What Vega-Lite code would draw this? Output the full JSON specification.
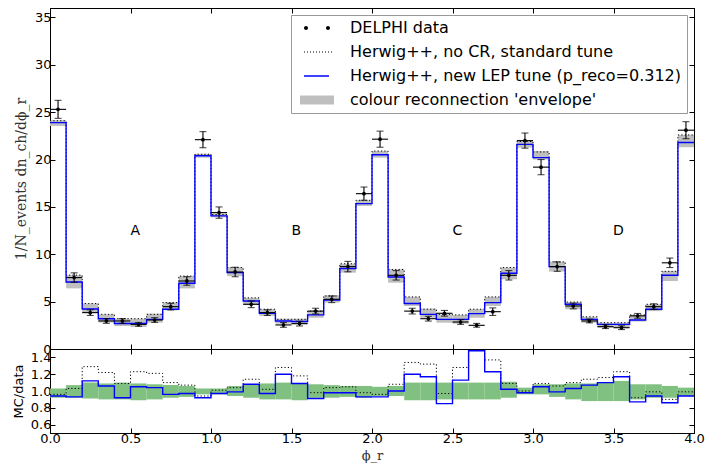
{
"$schema":"https://vega.github.io/schema/vega-lite/v6.json",
"padding":{"left":11,"top":7,"right":10,"bottom":2},
"spacing":0,
"bounds":"flush",
"datasets":{
"bins":[
{"lo":0.0,"hi":0.1,"x":0.05,"d":25.3,"dlo":24.35,"dhi":26.25,"nocr":24.1,"tune":23.9,"eLo":23.55,"eHi":24.15,"rn":0.96,"rt":0.94,"gLo":0.92,"gHi":1.03},
{"lo":0.1,"hi":0.2,"x":0.15,"d":7.54,"dlo":7.04,"dhi":8.04,"nocr":7.8,"tune":7.08,"eLo":6.4,"eHi":7.8,"rn":1.03,"rt":0.93,"gLo":0.92,"gHi":1.07},
{"lo":0.2,"hi":0.3,"x":0.25,"d":3.84,"dlo":3.54,"dhi":4.14,"nocr":4.8,"tune":4.23,"eLo":3.8,"eHi":4.8,"rn":1.29,"rt":1.12,"gLo":0.91,"gHi":1.10},
{"lo":0.3,"hi":0.4,"x":0.35,"d":2.96,"dlo":2.71,"dhi":3.21,"nocr":3.66,"tune":3.2,"eLo":2.8,"eHi":3.66,"rn":1.22,"rt":1.06,"gLo":0.90,"gHi":1.09},
{"lo":0.4,"hi":0.5,"x":0.45,"d":2.96,"dlo":2.71,"dhi":3.21,"nocr":3.2,"tune":2.7,"eLo":2.43,"eHi":3.2,"rn":1.09,"rt":0.92,"gLo":0.90,"gHi":1.10},
{"lo":0.5,"hi":0.6,"x":0.55,"d":2.6,"dlo":2.4,"dhi":2.8,"nocr":3.2,"tune":2.7,"eLo":2.32,"eHi":3.2,"rn":1.23,"rt":1.05,"gLo":0.89,"gHi":1.09},
{"lo":0.6,"hi":0.7,"x":0.65,"d":3.06,"dlo":2.81,"dhi":3.31,"nocr":3.66,"tune":3.13,"eLo":2.78,"eHi":3.73,"rn":1.21,"rt":1.04,"gLo":0.90,"gHi":1.08},
{"lo":0.7,"hi":0.8,"x":0.75,"d":4.47,"dlo":4.12,"dhi":4.82,"nocr":4.9,"tune":4.19,"eLo":4.08,"eHi":4.9,"rn":1.10,"rt":0.96,"gLo":0.92,"gHi":1.07},
{"lo":0.8,"hi":0.9,"x":0.85,"d":7.18,"dlo":6.73,"dhi":7.63,"nocr":7.7,"tune":6.94,"eLo":6.4,"eHi":7.7,"rn":1.07,"rt":0.97,"gLo":0.93,"gHi":1.06},
{"lo":0.9,"hi":1.0,"x":0.95,"d":22.1,"dlo":21.25,"dhi":22.95,"nocr":20.56,"tune":20.4,"eLo":20.2,"eHi":20.6,"rn":0.94,"rt":0.92,"gLo":0.96,"gHi":1.03},
{"lo":1.0,"hi":1.1,"x":1.05,"d":14.4,"dlo":13.8,"dhi":15.0,"nocr":14.2,"tune":14.05,"eLo":13.9,"eHi":14.3,"rn":1.01,"rt":0.97,"gLo":0.96,"gHi":1.03},
{"lo":1.1,"hi":1.2,"x":1.15,"d":8.13,"dlo":7.63,"dhi":8.63,"nocr":8.6,"tune":8.06,"eLo":7.7,"eHi":8.6,"rn":1.04,"rt":0.99,"gLo":0.94,"gHi":1.06},
{"lo":1.2,"hi":1.3,"x":1.25,"d":4.72,"dlo":4.37,"dhi":5.07,"nocr":5.4,"tune":5.07,"eLo":4.65,"eHi":5.4,"rn":1.14,"rt":1.08,"gLo":0.92,"gHi":1.08},
{"lo":1.3,"hi":1.4,"x":1.35,"d":3.84,"dlo":3.54,"dhi":4.14,"nocr":4.2,"tune":3.77,"eLo":3.5,"eHi":4.2,"rn":1.02,"rt":0.97,"gLo":0.90,"gHi":1.09},
{"lo":1.4,"hi":1.5,"x":1.45,"d":2.54,"dlo":2.29,"dhi":2.79,"nocr":3.13,"tune":2.96,"eLo":2.68,"eHi":3.2,"rn":1.28,"rt":1.20,"gLo":0.90,"gHi":1.10},
{"lo":1.5,"hi":1.6,"x":1.55,"d":2.68,"dlo":2.43,"dhi":2.93,"nocr":3.13,"tune":2.9,"eLo":2.6,"eHi":3.2,"rn":1.18,"rt":1.09,"gLo":0.89,"gHi":1.09},
{"lo":1.6,"hi":1.7,"x":1.65,"d":4.0,"dlo":3.7,"dhi":4.3,"nocr":4.0,"tune":3.6,"eLo":3.3,"eHi":4.0,"rn":0.98,"rt":0.91,"gLo":0.92,"gHi":1.08},
{"lo":1.7,"hi":1.8,"x":1.75,"d":5.25,"dlo":4.9,"dhi":5.6,"nocr":5.6,"tune":5.18,"eLo":4.9,"eHi":5.67,"rn":1.04,"rt":0.98,"gLo":0.92,"gHi":1.07},
{"lo":1.8,"hi":1.9,"x":1.85,"d":8.7,"dlo":8.15,"dhi":9.25,"nocr":9.0,"tune":8.5,"eLo":8.06,"eHi":9.0,"rn":1.05,"rt":0.98,"gLo":0.93,"gHi":1.06},
{"lo":1.9,"hi":2.0,"x":1.95,"d":16.4,"dlo":15.7,"dhi":17.1,"nocr":15.7,"tune":15.35,"eLo":15.1,"eHi":15.7,"rn":0.98,"rt":0.93,"gLo":0.92,"gHi":1.06},
{"lo":2.0,"hi":2.1,"x":2.05,"d":22.15,"dlo":21.3,"dhi":23.0,"nocr":20.9,"tune":20.5,"eLo":20.2,"eHi":20.9,"rn":0.96,"rt":0.93,"gLo":0.94,"gHi":1.05},
{"lo":2.1,"hi":2.2,"x":2.15,"d":7.78,"dlo":7.28,"dhi":8.28,"nocr":8.4,"tune":7.6,"eLo":7.0,"eHi":8.4,"rn":1.08,"rt":1.00,"gLo":0.94,"gHi":1.06},
{"lo":2.2,"hi":2.3,"x":2.25,"d":4.0,"dlo":3.7,"dhi":4.3,"nocr":5.5,"tune":4.8,"eLo":4.54,"eHi":5.5,"rn":1.34,"rt":1.20,"gLo":0.89,"gHi":1.10},
{"lo":2.3,"hi":2.4,"x":2.35,"d":3.2,"dlo":2.95,"dhi":3.45,"nocr":4.2,"tune":3.66,"eLo":3.3,"eHi":4.26,"rn":1.32,"rt":1.17,"gLo":0.89,"gHi":1.10},
{"lo":2.4,"hi":2.5,"x":2.45,"d":3.77,"dlo":3.47,"dhi":4.07,"nocr":3.66,"tune":3.13,"eLo":2.78,"eHi":3.66,"rn":0.97,"rt":0.85,"gLo":0.90,"gHi":1.10},
{"lo":2.5,"hi":2.6,"x":2.55,"d":2.85,"dlo":2.6,"dhi":3.1,"nocr":3.6,"tune":3.13,"eLo":2.68,"eHi":3.6,"rn":1.28,"rt":1.13,"gLo":0.90,"gHi":1.10},
{"lo":2.6,"hi":2.7,"x":2.65,"d":2.5,"dlo":2.3,"dhi":2.7,"nocr":4.2,"tune":3.73,"eLo":3.3,"eHi":4.2,"rn":1.68,"rt":1.48,"gLo":0.90,"gHi":1.10},
{"lo":2.7,"hi":2.8,"x":2.75,"d":3.94,"dlo":3.54,"dhi":4.34,"nocr":5.5,"tune":4.9,"eLo":4.54,"eHi":5.5,"rn":1.37,"rt":1.23,"gLo":0.90,"gHi":1.10},
{"lo":2.8,"hi":2.9,"x":2.85,"d":7.78,"dlo":7.28,"dhi":8.28,"nocr":8.6,"tune":8.0,"eLo":7.36,"eHi":8.6,"rn":1.09,"rt":1.02,"gLo":0.92,"gHi":1.11},
{"lo":2.9,"hi":3.0,"x":2.95,"d":22.0,"dlo":21.2,"dhi":22.8,"nocr":21.9,"tune":21.6,"eLo":21.27,"eHi":21.97,"rn":1.00,"rt":0.98,"gLo":0.96,"gHi":1.04},
{"lo":3.0,"hi":3.1,"x":3.05,"d":19.2,"dlo":18.4,"dhi":20.0,"nocr":20.8,"tune":20.2,"eLo":20.0,"eHi":20.9,"rn":1.09,"rt":1.05,"gLo":0.96,"gHi":1.08},
{"lo":3.1,"hi":3.2,"x":3.15,"d":8.7,"dlo":8.2,"dhi":9.2,"nocr":9.2,"tune":8.7,"eLo":8.17,"eHi":9.2,"rn":1.06,"rt":0.99,"gLo":0.93,"gHi":1.08},
{"lo":3.2,"hi":3.3,"x":3.25,"d":4.54,"dlo":4.24,"dhi":4.84,"nocr":4.96,"tune":4.72,"eLo":4.19,"eHi":4.96,"rn":1.10,"rt":1.03,"gLo":0.90,"gHi":1.09},
{"lo":3.3,"hi":3.4,"x":3.35,"d":2.96,"dlo":2.76,"dhi":3.16,"nocr":3.4,"tune":3.13,"eLo":2.78,"eHi":3.4,"rn":1.14,"rt":1.07,"gLo":0.88,"gHi":1.09},
{"lo":3.4,"hi":3.5,"x":3.45,"d":2.36,"dlo":2.16,"dhi":2.56,"nocr":2.78,"tune":2.6,"eLo":2.25,"eHi":2.78,"rn":1.16,"rt":1.10,"gLo":0.88,"gHi":1.10},
{"lo":3.5,"hi":3.6,"x":3.55,"d":2.25,"dlo":2.05,"dhi":2.45,"nocr":2.78,"tune":2.6,"eLo":2.25,"eHi":2.78,"rn":1.23,"rt":1.17,"gLo":0.88,"gHi":1.12},
{"lo":3.6,"hi":3.7,"x":3.65,"d":3.5,"dlo":3.25,"dhi":3.75,"nocr":3.6,"tune":3.06,"eLo":2.9,"eHi":3.6,"rn":0.92,"rt":0.87,"gLo":0.90,"gHi":1.08},
{"lo":3.7,"hi":3.8,"x":3.75,"d":4.47,"dlo":4.17,"dhi":4.77,"nocr":4.72,"tune":4.19,"eLo":4.0,"eHi":4.72,"rn":0.99,"rt":0.94,"gLo":0.92,"gHi":1.08},
{"lo":3.8,"hi":3.9,"x":3.85,"d":9.1,"dlo":8.6,"dhi":9.6,"nocr":8.2,"tune":7.78,"eLo":7.18,"eHi":8.24,"rn":0.90,"rt":0.86,"gLo":0.92,"gHi":1.06},
{"lo":3.9,"hi":4.0,"x":3.95,"d":23.1,"dlo":22.2,"dhi":24.0,"nocr":22.6,"tune":21.8,"eLo":21.3,"eHi":22.6,"rn":0.99,"rt":0.94,"gLo":0.94,"gHi":1.04},
{"lo":4.0,"nocr":22.6,"tune":21.8,"rn":0.99,"rt":0.94}
],
"regions":[
{"lx":0.53,"ly":12.5,"lab":"A"},
{"lx":1.53,"ly":12.5,"lab":"B"},
{"lx":2.53,"ly":12.5,"lab":"C"},
{"lx":3.53,"ly":12.5,"lab":"D"}
],
"legend":[
{"s":"DELPHI data"},
{"s":"Herwig++, no CR, standard tune"},
{"s":"Herwig++, new LEP tune (p_reco=0.312)"},
{"s":"colour reconnection 'envelope'"}
]
},
"config":{
"view":{"stroke":"black","strokeWidth":1},
"axis":{"grid":false,"domainColor":"black","tickColor":"black","tickSize":-5,"labelFont":"DejaVu Sans","labelFontSize":13,"labelColor":"black","labelPadding":4,"labelFlush":false,"titleFontWeight":"normal","titleColor":"#333"},
"legend":{"labelFont":"DejaVu Sans","labelFontSize":16,"labelColor":"black","strokeColor":"#999","fillColor":"white","padding":5,"rowPadding":8,"symbolSize":100,"symbolOpacity":1,"symbolStrokeWidth":0,"labelOffset":38,"labelLimit":500,"cornerRadius":0,"orient":"top-right","offset":7}
},
"vconcat":[
{
"width":644,"height":341,
"resolve":{"axis":{"x":"independent","y":"independent"}},
"layer":[
{"data":{"name":"bins"},"transform":[{"filter":"isValid(datum.hi)"}],
 "mark":{"type":"rect","color":"#bfbfbf"},
 "encoding":{
  "x":{"field":"lo","type":"quantitative","scale":{"domain":[0,4],"nice":false,"zero":false},"axis":{"orient":"bottom","values":[0,0.5,1,1.5,2,2.5,3,3.5,4],"labels":false,"title":null}},
  "x2":{"field":"hi"},
  "y":{"field":"eLo","type":"quantitative","scale":{"domain":[0,36],"nice":false},"axis":{"orient":"left","values":[0,5,10,15,20,25,30,35],"title":"1/N_events dn_ch/dϕ_r","titleFont":"DejaVu Serif","titleFontSize":14,"titlePadding":6}},
  "y2":{"field":"eHi"}}},
{"data":{"name":"bins"},
 "mark":{"type":"line","interpolate":"step-after","color":"black","strokeWidth":1,"strokeDash":[1.2,2.2]},
 "encoding":{
  "x":{"field":"lo","type":"quantitative","scale":{"domain":[0,4],"nice":false,"zero":false},"axis":{"orient":"top","values":[0,0.5,1,1.5,2,2.5,3,3.5,4],"labels":false,"title":null}},
  "y":{"field":"nocr","type":"quantitative","scale":{"domain":[0,36],"nice":false},"axis":{"orient":"right","values":[0,5,10,15,20,25,30,35],"labels":false,"title":null}}}},
{"data":{"name":"bins"},
 "mark":{"type":"line","interpolate":"step-after","color":"#0000ff","strokeWidth":1.4},
 "encoding":{
  "x":{"field":"lo","type":"quantitative","scale":{"domain":[0,4],"nice":false,"zero":false},"axis":null},
  "y":{"field":"tune","type":"quantitative","scale":{"domain":[0,36],"nice":false},"axis":null}}},
{"data":{"name":"bins"},"transform":[{"filter":"isValid(datum.d)"}],
 "mark":{"type":"rule","color":"black","strokeWidth":1.1},
 "encoding":{
  "x":{"field":"lo","type":"quantitative","scale":{"domain":[0,4],"nice":false,"zero":false},"axis":null},
  "x2":{"field":"hi"},
  "y":{"field":"d","type":"quantitative","scale":{"domain":[0,36],"nice":false},"axis":null}}},
{"data":{"name":"bins"},"transform":[{"filter":"isValid(datum.d)"}],
 "mark":{"type":"rule","color":"black","strokeWidth":1.1},
 "encoding":{
  "x":{"field":"x","type":"quantitative","scale":{"domain":[0,4],"nice":false,"zero":false},"axis":null},
  "y":{"field":"dlo","type":"quantitative","scale":{"domain":[0,36],"nice":false},"axis":null},
  "y2":{"field":"dhi"}}},
{"data":{"name":"bins"},"transform":[{"filter":"isValid(datum.d)"}],
 "mark":{"type":"tick","orient":"horizontal","color":"black","size":7,"thickness":1.1},
 "encoding":{
  "x":{"field":"x","type":"quantitative","scale":{"domain":[0,4],"nice":false,"zero":false},"axis":null},
  "y":{"field":"dlo","type":"quantitative","scale":{"domain":[0,36],"nice":false},"axis":null}}},
{"data":{"name":"bins"},"transform":[{"filter":"isValid(datum.d)"}],
 "mark":{"type":"tick","orient":"horizontal","color":"black","size":7,"thickness":1.1},
 "encoding":{
  "x":{"field":"x","type":"quantitative","scale":{"domain":[0,4],"nice":false,"zero":false},"axis":null},
  "y":{"field":"dhi","type":"quantitative","scale":{"domain":[0,36],"nice":false},"axis":null}}},
{"data":{"name":"bins"},"transform":[{"filter":"isValid(datum.d)"}],
 "mark":{"type":"circle","color":"black","size":14,"opacity":1},
 "encoding":{
  "x":{"field":"x","type":"quantitative","scale":{"domain":[0,4],"nice":false,"zero":false},"axis":null},
  "y":{"field":"d","type":"quantitative","scale":{"domain":[0,36],"nice":false},"axis":null}}},
{"data":{"name":"regions"},
 "mark":{"type":"text","font":"DejaVu Sans","fontSize":14,"color":"black","align":"center","baseline":"middle"},
 "encoding":{
  "x":{"field":"lx","type":"quantitative","scale":{"domain":[0,4],"nice":false,"zero":false},"axis":null},
  "y":{"field":"ly","type":"quantitative","scale":{"domain":[0,36],"nice":false},"axis":null},
  "text":{"field":"lab"}}},
{"data":{"name":"legend"},
 "mark":{"type":"point","filled":true,"opacity":0,"size":100},
 "encoding":{
  "shape":{"field":"s","type":"nominal","scale":{"domain":["DELPHI data","Herwig++, no CR, standard tune","Herwig++, new LEP tune (p_reco=0.312)","colour reconnection 'envelope'"],"range":["M0,0a0.4,0.4 0 1,0 0.8,0a0.4,0.4 0 1,0 -0.8,0Z M4.4,0a0.4,0.4 0 1,0 0.8,0a0.4,0.4 0 1,0 -0.8,0Z","M0,-0.1h0.2v0.2h-0.2z M0.6,-0.1h0.2v0.2h-0.2z M1.2,-0.1h0.2v0.2h-0.2z M1.8,-0.1h0.2v0.2h-0.2z M2.4,-0.1h0.2v0.2h-0.2z M3.0,-0.1h0.2v0.2h-0.2z M3.6,-0.1h0.2v0.2h-0.2z M4.2,-0.1h0.2v0.2h-0.2z M4.8,-0.1h0.2v0.2h-0.2z M5.4,-0.1h0.2v0.2h-0.2z","M0,-0.15H5V0.15H0Z","M-0.8,-0.9H6V0.9H-0.8Z"]},"legend":{"title":null,"symbolOpacity":1}},
  "color":{"field":"s","type":"nominal","scale":{"domain":["DELPHI data","Herwig++, no CR, standard tune","Herwig++, new LEP tune (p_reco=0.312)","colour reconnection 'envelope'"],"range":["black","black","#0000ff","#bfbfbf"]},"legend":{"title":null,"symbolOpacity":1}}}}
]
},
{
"width":644,"height":84,
"resolve":{"axis":{"x":"independent","y":"independent"}},
"layer":[
{"data":{"name":"bins"},"transform":[{"filter":"isValid(datum.hi)"}],
 "mark":{"type":"rect","color":"#80c080"},
 "encoding":{
  "x":{"field":"lo","type":"quantitative","scale":{"domain":[0,4],"nice":false,"zero":false},"axis":{"orient":"bottom","values":[0,0.5,1,1.5,2,2.5,3,3.5,4],"format":".1f","title":"ϕ_r","titleFont":"DejaVu Serif","titleFontSize":13,"titlePadding":4}},
  "x2":{"field":"hi"},
  "y":{"field":"gLo","type":"quantitative","scale":{"domain":[0.5,1.5],"nice":false,"zero":false},"axis":{"orient":"left","values":[0.6,0.8,1.0,1.2,1.4],"format":".1f","title":"MC/data","titleFont":"DejaVu Sans","titleFontSize":13,"titleColor":"black","titlePadding":5}},
  "y2":{"field":"gHi"}}},
{"mark":{"type":"rule","color":"black","strokeWidth":1.2},
 "encoding":{"y":{"datum":1,"type":"quantitative","scale":{"domain":[0.5,1.5],"nice":false,"zero":false},"axis":null}}},
{"data":{"name":"bins"},
 "mark":{"type":"line","interpolate":"step-after","color":"black","strokeWidth":1,"strokeDash":[1.2,2.2],"clip":true},
 "encoding":{
  "x":{"field":"lo","type":"quantitative","scale":{"domain":[0,4],"nice":false,"zero":false},"axis":{"orient":"top","values":[0,0.5,1,1.5,2,2.5,3,3.5,4],"labels":false,"title":null}},
  "y":{"field":"rn","type":"quantitative","scale":{"domain":[0.5,1.5],"nice":false,"zero":false},"axis":{"orient":"right","values":[0.6,0.8,1.0,1.2,1.4],"labels":false,"title":null}}}},
{"data":{"name":"bins"},
 "mark":{"type":"line","interpolate":"step-after","color":"#0000ff","strokeWidth":1.4,"clip":true},
 "encoding":{
  "x":{"field":"lo","type":"quantitative","scale":{"domain":[0,4],"nice":false,"zero":false},"axis":null},
  "y":{"field":"rt","type":"quantitative","scale":{"domain":[0.5,1.5],"nice":false,"zero":false},"axis":null}}}
]
}
]
}
